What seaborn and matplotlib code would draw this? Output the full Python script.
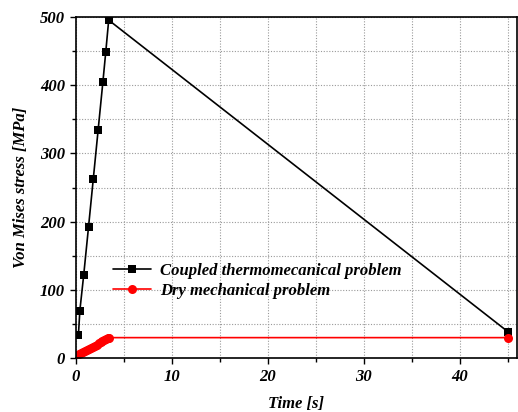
import matplotlib
matplotlib.use("Agg")
import matplotlib.pyplot as plt
from matplotlib.ticker import MultipleLocator
import numpy as np
import pandas as pd
import seaborn as sns

# Coupled thermomechanical simulation
coupled_time = [0.3, 0.45, 0.85, 1.35, 1.85, 2.35, 2.85, 3.15, 3.45, 45.0]
coupled_stress = [34, 70, 122, 192, 263, 334, 405, 449, 495, 39]

# Dry mechanical simulation
dry_time = [0.2, 0.4, 0.6, 0.8, 1.0, 1.2, 1.4, 1.6, 1.8, 2.0, 2.2, 2.4,
            2.6, 2.8, 3.0, 3.2, 3.4, 3.5, 45.0]
dry_stress = [4.5, 6.0, 7.8, 9.4, 11.0, 12.5, 14.1, 15.6, 17.3, 18.9, 20.4,
              22.0, 23.6, 25.1, 26.7, 28.3, 29.8, 30.5, 30.5]

series_names = ["Coupled thermomecanical problem", "Dry mechanical problem"]
series_colors = ["#000000", "#ff0000"]
series_markers = ["s", "o"]
series_marker_sizes = [5.5, 6.5]

df = pd.concat([
    pd.DataFrame({"time": coupled_time, "stress": coupled_stress,
                  "case": series_names[0]}),
    pd.DataFrame({"time": dry_time, "stress": dry_stress,
                  "case": series_names[1]}),
])

sns.set_theme(style="white")
plt.rcParams["font.family"] = ["Liberation Serif", "DejaVu Serif"]
plt.rcParams["font.weight"] = "bold"
plt.rcParams["font.style"] = "italic"
plt.rcParams["font.size"] = 12
plt.rcParams["text.color"] = "black"
plt.rcParams["axes.labelcolor"] = "black"
plt.rcParams["xtick.color"] = "black"
plt.rcParams["ytick.color"] = "black"

fig = plt.figure(figsize=(5.18, 4.12), dpi=100)
ax = fig.add_axes([0.1458, 0.1299, 0.8517, 0.8296])

sns.lineplot(data=df, x="time", y="stress", hue="case", style="case",
             hue_order=series_names, style_order=series_names,
             palette=dict(zip(series_names, series_colors)),
             markers=dict(zip(series_names, series_markers)),
             dashes=False, estimator=None, sort=False,
             markersize=5.5, markeredgewidth=0, linewidth=1.2, ax=ax)

for line, ms in zip(ax.lines[:2], series_marker_sizes):
    line.set_markersize(ms)

ax.set_xlim(0, 45.9)
ax.set_ylim(0, 500)
ax.xaxis.set_major_locator(MultipleLocator(10))
ax.xaxis.set_minor_locator(MultipleLocator(5))
ax.yaxis.set_major_locator(MultipleLocator(100))
ax.yaxis.set_minor_locator(MultipleLocator(50))

ax.grid(True, which="both", color="#9a9a9a", linestyle=(0, (1, 1.5)),
        linewidth=0.8)
ax.set_axisbelow(True)

for side in ["left", "bottom", "top", "right"]:
    ax.spines[side].set_visible(True)
    ax.spines[side].set_color("black")
    ax.spines[side].set_linewidth(1.2)

ax.tick_params(which="major", direction="out", length=4, width=1,
               color="black", labelcolor="black", bottom=True, left=True,
               labelsize=12)
ax.tick_params(which="minor", direction="out", length=3, width=1,
               color="black", bottom=True, left=True)

ax.set_xlabel("Time [s]", fontsize=12, fontweight="bold", style="italic",
              labelpad=8, color="black")
ax.set_ylabel("Von Mises stress [MPa]", fontsize=12, fontweight="bold",
              style="italic", labelpad=8, color="black")

leg = ax.legend(loc="upper left", bbox_to_anchor=(0.07, 0.3),
                frameon=False, handlelength=2.3, handletextpad=0.5,
                labelspacing=0.25, borderaxespad=0,
                prop={"family": "Liberation Serif", "weight": "bold",
                      "style": "italic", "size": 12})
for handle, ms in zip(leg.get_lines(), series_marker_sizes):
    handle.set_markersize(ms)
for txt in leg.get_texts():
    txt.set_color("black")

fig.savefig("out.png", dpi=100)
